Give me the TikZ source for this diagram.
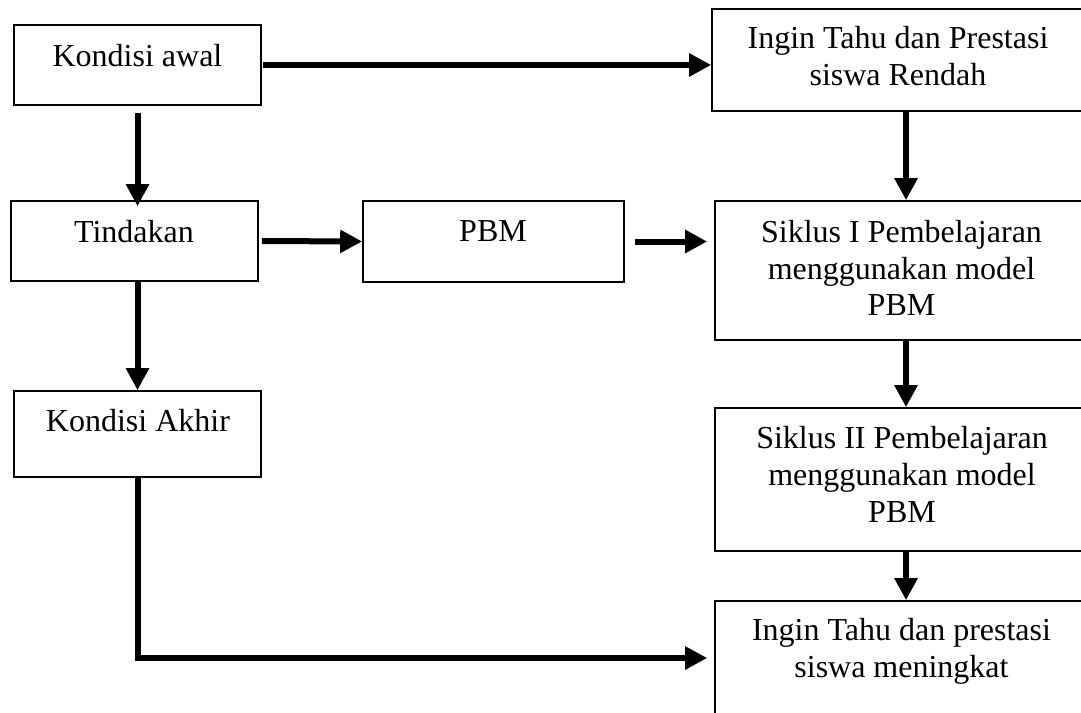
\documentclass[tikz,border=0pt]{standalone}
\usepackage{fontspec}
\setmainfont{Liberation Serif}
\usetikzlibrary{arrows.meta}
\begin{document}
\begin{tikzpicture}[x=0.5pt,y=-0.5pt,
  box/.style={draw=black,line width=0.8pt,rectangle,inner sep=0pt,fill=white},
  txt/.style={anchor=north,inner sep=0pt,align=center,font=\fontsize{16pt}{18.4pt}\selectfont},
  arr/.style={line width=3pt,-{Triangle[length=11pt,width=11pt]}}]
\useasboundingbox (0,0) rectangle (1081,712);
\clip (0,0) rectangle (1081,712);
\fill[white] (0,0) rectangle (1081,712);
% boxes
\node[box,minimum width=123.5pt,minimum height=40pt] (ka) at (137.5,65) {};
\node[box,minimum width=194pt,minimum height=51pt] (it1) at (906,60) {};
\node[box,minimum width=123.5pt,minimum height=40pt] (tin) at (134.5,241) {};
\node[box,minimum width=130.5pt,minimum height=40.5pt] (pbm) at (493.5,241.5) {};
\node[box,minimum width=191pt,minimum height=69.5pt] (s1) at (906,270.5) {};
\node[box,minimum width=123.5pt,minimum height=43pt] (kakhir) at (137.5,434) {};
\node[box,minimum width=191pt,minimum height=71.5pt] (s2) at (906,479.5) {};
\node[box,minimum width=191pt,minimum height=99.5pt] (last) at (906,700.5) {};
% texts
\node[txt] (ka-t) at (137.5,43.7) {Kondisi awal};
\node[txt] (it1-t) at (898,26.3) {Ingin Tahu dan Prestasi\\siswa Rendah};
\node[txt] (tin-t) at (134,219.7) {Tindakan};
\node[txt] (pbm-t) at (493,220.5) {PBM};
\node[txt] (s1-t) at (901.5,219.7) {Siklus I Pembelajaran\\menggunakan model\\PBM};
\node[txt] (kakhir-t) at (138,408.7) {Kondisi Akhir};
\node[txt] (s2-t) at (902,426) {Siklus II Pembelajaran\\menggunakan model\\PBM};
\node[txt] (last-t) at (901.5,618) {Ingin Tahu dan prestasi\\siswa meningkat};
% connectors
\coordinate (bend) at (137.5,658);
\draw[arr,shorten <=0.5pt] (ka.east) -- (ka.east -| it1.west);
\draw[arr,shorten <=3.5pt,shorten >=-3pt] (ka.south) -- (ka.south |- tin.north);
\draw[arr,shorten <=1.5pt] (tin.east) -- (pbm.west);
\draw[arr,shorten <=5pt,shorten >=3.5pt] (pbm.east) -- (pbm.east -| s1.west);
\draw[arr] (it1.south) -- (s1.north);
\draw[arr] (tin.south -| ka.south) -- (kakhir.north);
\draw[arr] (s1.south) -- (s2.north);
\draw[arr] (s2.south) -- (last.north);
\draw[arr,shorten >=3.5pt] (kakhir.south) |- (bend -| last.west);
\end{tikzpicture}
\end{document}
